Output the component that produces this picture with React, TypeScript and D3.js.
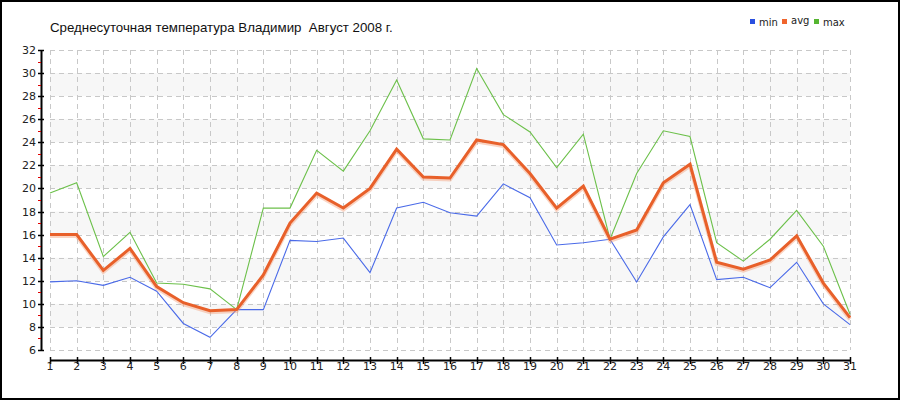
import React from "react";
import * as d3 from "d3";

const days = d3.range(1, 32);
const minVals = [11.9, 12.0, 11.6, 12.3, 11.1, 8.3, 7.1, 9.5, 9.5, 15.5, 15.4, 15.7, 12.7, 18.3, 18.8, 17.9, 17.6, 20.4, 19.2, 15.1, 15.3, 15.6, 11.9, 15.8, 18.6, 12.1, 12.3, 11.4, 13.6, 10.0, 8.2];
const avgVals = [16.0, 16.0, 12.9, 14.8, 11.5, 10.1, 9.4, 9.5, 12.5, 17.0, 19.6, 18.3, 20.0, 23.4, 21.0, 20.9, 24.2, 23.8, 21.3, 18.3, 20.2, 15.6, 16.4, 20.5, 22.1, 13.6, 13.0, 13.8, 15.9, 11.8, 8.8];
const maxVals = [19.6, 20.5, 14.1, 16.2, 11.8, 11.7, 11.3, 9.5, 18.3, 18.3, 23.3, 21.5, 25.0, 29.4, 24.3, 24.2, 30.4, 26.4, 24.9, 21.8, 24.7, 15.6, 21.3, 25.0, 24.5, 15.3, 13.7, 15.6, 18.1, 15.0, 9.1];
const yMajor = [6, 8, 10, 12, 14, 16, 18, 20, 22, 24, 26, 28, 30, 32];
const yMinor = [7, 9, 11, 13, 15, 17, 19, 21, 23, 25, 27, 29, 31];
const bands = [8, 12, 16, 20, 24, 28];
const title = "Среднесуточная температура Владимир  Август 2008 г.";
const legendItems = [
  { name: "min", color: "#2a4fe0" },
  { name: "avg", color: "#f0642c" },
  { name: "max", color: "#55b530" },
];

export default function App() {
  const W = 900, H = 400;
  const x = d3.scaleLinear().domain([1, 31]).range([50, 850]);
  const y = d3.scaleLinear().domain([6, 32]).range([350, 50]);
  const line = d3.line<number>().x((_, i) => x(days[i])).y((v) => y(v));
  const font = "Tahoma, 'DejaVu Sans', sans-serif";
  return (
    <svg width={W} height={H} style={{ position: "absolute", left: 0, top: 0, background: "#fff" }} fontFamily={font}>
      <rect x={1} y={1} width={W - 2} height={H - 2} fill="#fff" stroke="#000" strokeWidth={2} />
      {bands.map((b) => (
        <rect key={b} x={x(1)} y={y(b + 2)} width={x(31) - x(1)} height={y(b) - y(b + 2)} fill="#f7f7f7" />
      ))}
      {yMajor.map((v) => (
        <line key={"h" + v} x1={x(1)} x2={x(31)} y1={Math.round(y(v)) + 0.5} y2={Math.round(y(v)) + 0.5} stroke="#c8c8c8" strokeDasharray="5,4" />
      ))}
      {days.map((d) => (
        <line key={"v" + d} x1={Math.round(x(d)) + 0.5} x2={Math.round(x(d)) + 0.5} y1={y(32)} y2={y(6)} stroke="#c8c8c8" strokeDasharray="5,4" />
      ))}
      {/* y axis */}
      <line x1={41.5} x2={41.5} y1={y(32)} y2={y(6) + 1} stroke="#000" strokeWidth={2} />
      {yMinor.map((v) => (
        <line key={"m" + v} x1={38} x2={41} y1={Math.round(y(v)) + 0.5} y2={Math.round(y(v)) + 0.5} stroke="#e00000" />
      ))}
      {yMajor.map((v) => (
        <g key={"t" + v}>
          <line x1={38} x2={44} y1={Math.round(y(v)) + 0.5} y2={Math.round(y(v)) + 0.5} stroke="#000" strokeWidth={1.5} />
          <text x={36} y={y(v) + 4} textAnchor="end" fontSize={11} fill="#222">{v}</text>
        </g>
      ))}
      {/* x axis */}
      <line x1={x(1)} x2={x(31) + 1} y1={360.5} y2={360.5} stroke="#000" strokeWidth={2} />
      {days.map((d) => (
        <g key={"xt" + d}>
          <line x1={Math.round(x(d)) + 0.5} x2={Math.round(x(d)) + 0.5} y1={357} y2={364} stroke="#000" strokeWidth={1.5} />
          <text x={x(d)} y={370} textAnchor="middle" fontSize={11} fill="#222">{d}</text>
        </g>
      ))}
      {/* lines */}
      <path d={line(minVals) || ""} fill="none" stroke="#4a6ae8" strokeWidth={1.1} />
      <path d={line(maxVals) || ""} fill="none" stroke="#6cc04a" strokeWidth={1.1} />
      <path d={line(avgVals) || ""} fill="none" stroke="#f4a07a" strokeOpacity={0.45} strokeWidth={4} transform="translate(0,1.5)" />
      <path d={line(avgVals) || ""} fill="none" stroke="#e8602a" strokeWidth={3} />
      {/* title */}
      <text x={50} y={32} fontSize={13.3} fill="#111" fontFamily="'Liberation Sans', Arial, sans-serif" style={{ whiteSpace: "pre" }}>{title}</text>
      {/* legend */}
      {legendItems.map((it, i) => {
        const lx = [750, 782, 814][i];
        return (
          <g key={it.name}>
            <rect x={lx} y={19} width={5} height={5} fill={it.color} />
            <text x={lx + 9} y={it.name === "avg" ? 24 : 26} fontSize={10} fill="#222">{it.name}</text>
          </g>
        );
      })}
    </svg>
  );
}
